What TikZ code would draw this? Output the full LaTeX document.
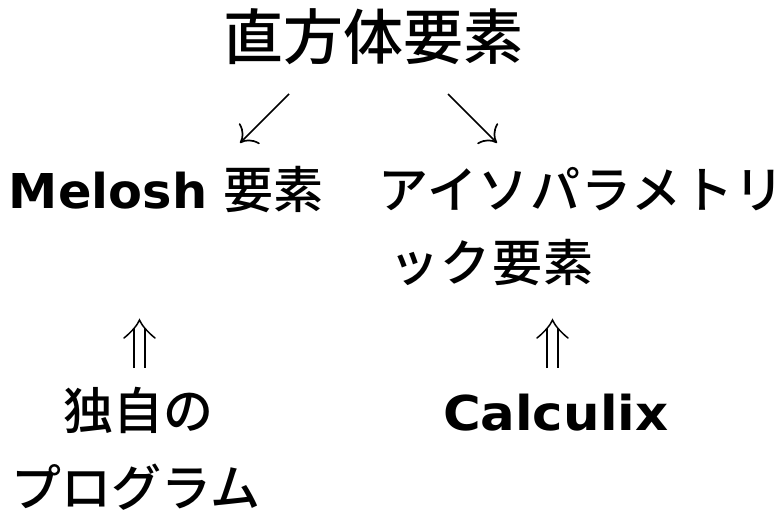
\documentclass[tikz,border=0pt]{standalone}
\usepackage{fontspec}
\setmainfont{Noto Sans CJK JP}[UprightFont={* Medium}]
\newfontfamily\latfont{DejaVu Sans Bold}[FakeStretch=1.03]
\newfontfamily\latwide{DejaVu Sans Bold}[FakeStretch=1.07]
\newfontfamily\kanafont{Noto Sans CJK JP}[UprightFont={* Medium}, LetterSpace=3]
\usetikzlibrary{arrows.meta}
\tikzset{
  txt/.style={inner sep=0pt, outer sep=0pt, font=\fontsize{50}{60}\selectfont},
  ttl/.style={inner sep=0pt, outer sep=0pt, font=\fontsize{60}{70}\selectfont},
  diag/.style={line width=1.7pt, -{Computer Modern Rightarrow[length=14pt,width=29pt]}},
  dbl/.style={double, double distance=9.5pt, line width=1.5pt},
  dtip/.style={line width=1.5pt, line cap=round},
}
\begin{document}
\begin{tikzpicture}[x=1pt,y=-1pt]
\useasboundingbox (0,0) rectangle (784,513);
\node[ttl, anchor=base] (title) at (373,60) {直方体要素};
\node[txt, anchor=base west] (melosh) at (9,208) {{\latfont\fontsize{48}{58}\selectfont Melosh}\hspace{16pt}要素};
\node[txt, anchor=base west] (iso1) at (378,208) {\kanafont アイソパラメトリ};
\node[txt, anchor=base west] (iso2) at (389,281) {\kanafont ック要素};
\node[txt, anchor=base] (own1) at (138,429) {独自の};
\node[txt, anchor=base] (own2) at (136,506) {プログラム};
\node[txt, anchor=base west] (calc) at (443,430) {\latwide\fontsize{48}{58}\selectfont Calculix};
\coordinate (la) at (289,94);
\coordinate (lb) at (240,143);
\coordinate (ra) at (448,94);
\coordinate (rb) at (497,143);
\coordinate (ua) at (139.5,368);
\coordinate (ub) at (139.5,320);
\coordinate (va) at (552.5,368);
\coordinate (vb) at (552.5,320);
\draw[diag] (la) -- (lb);
\draw[diag] (ra) -- (rb);
\foreach \t/\s in {ub/ua, vb/va}{
  \draw[dbl] (\s) -- ([yshift=-8pt]\t);
  \draw[dtip] ([xshift=-15.5pt,yshift=-18pt]\t) .. controls ([xshift=-8pt,yshift=-12pt]\t) and ([xshift=-2pt,yshift=-5pt]\t) .. (\t)
     .. controls ([xshift=2pt,yshift=-5pt]\t) and ([xshift=8pt,yshift=-12pt]\t) .. ([xshift=15.5pt,yshift=-18pt]\t);
}
\end{tikzpicture}
\end{document}
